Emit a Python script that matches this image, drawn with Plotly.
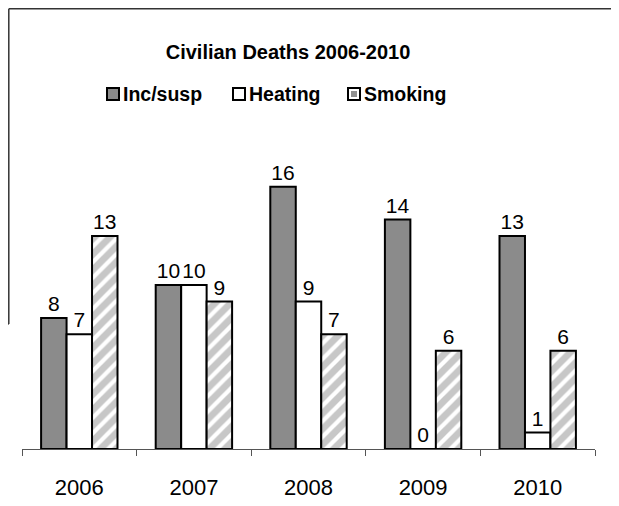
import plotly.graph_objects as go

years = ["2006", "2007", "2008", "2009", "2010"]
series_names = ["Inc/susp", "Heating", "Smoking"]
inc_susp = [8, 10, 16, 14, 13]
heating = [7, 10, 9, 0, 1]
smoking = [13, 9, 7, 6, 6]

OFF = 8  # page body margin
W, H = 619 - OFF, 506 - OFF
L, R, T, B = 22 - OFF, 24, 154 - OFF, 57
YMAX = 18

def px(x):
    # x in page pixels -> paper
    return (x - OFF - L) / (W - L - R)

def py(y):
    return (H - B - (y - OFF)) / (H - B - T)

GREY = "#8b8b8b"
STRIPE = "#8f8f8f"
FONT = "Liberation Sans, Arial, sans-serif"

fig = go.Figure()
styles = [
    dict(color=GREY),
    dict(color="white"),
    dict(color="white", pattern=dict(shape="/", fgcolor=STRIPE, bgcolor="white",
                                     size=11, solidity=0.62, fillmode="overlay")),
]
for name, vals, st in zip(series_names, [inc_susp, heating, smoking], styles):
    fig.add_trace(go.Bar(
        x=years, y=vals, name=name,
        marker=dict(line=dict(color="black", width=2), **st),
        text=[str(v) for v in vals], textposition="outside",
        textfont=dict(size=21, color="black", family=FONT),
        constraintext="none",
        cliponaxis=False, showlegend=False,
    ))

shapes = []
annotations = []
# manual legend
leg = [(107, series_names[0], GREY), (233, series_names[1], "white"), (348, series_names[2], "white")]
for x0, name, fill in leg:
    shapes.append(dict(type="rect", xref="paper", yref="paper",
                       x0=px(x0), x1=px(x0 + 12), y0=py(100), y1=py(88),
                       fillcolor=fill, line=dict(color="black", width=2)))
    annotations.append(dict(xref="paper", yref="paper", x=px(x0 + 14), y=py(94),
                            text=f"<b>{name}</b>", showarrow=False, xanchor="left",
                            yanchor="middle", font=dict(size=19.5, color="black", family=FONT)))
shapes.append(dict(type="rect", xref="paper", yref="paper",
                   x0=px(351), x1=px(357), y0=py(97), y1=py(91),
                   fillcolor=STRIPE, line=dict(width=0)))

# scan border lines
for (x0, y0, x1, y1) in [(8.8, 8.8, 619, 8.8), (8.8, 8.8, 8.8, 324), (8, 324, 8.8, 324)]:
    shapes.append(dict(type="line", xref="paper", yref="paper",
                       x0=px(x0), x1=px(x1), y0=py(y0), y1=py(y1),
                       line=dict(color="#333333", width=1.5)))

fig.update_layout(
    width=W, height=H,
    margin=dict(l=L, r=R, t=T, b=B, autoexpand=False),
    paper_bgcolor="white", plot_bgcolor="white",
    barmode="group", bargap=1/3, bargroupgap=0,
    title=dict(text="<b>Civilian Deaths 2006-2010</b>", x=(288 - OFF) / W, xanchor="center",
               y=1 - (52 - OFF) / H, yanchor="middle",
               font=dict(size=20, color="black", family=FONT)),
    font=dict(family=FONT, color="black"),
    xaxis=dict(showline=True, linecolor="#555555", linewidth=1.2,
               ticks="outside", ticklen=6, tickcolor="#555555", tickson="boundaries",
               tickfont=dict(size=22, color="black", family=FONT),
               ticklabelstandoff=18, showgrid=False, zeroline=False),
    yaxis=dict(range=[0, YMAX], visible=False, showgrid=False, zeroline=False),
    shapes=shapes, annotations=annotations,
)

fig.write_html("out.html")
